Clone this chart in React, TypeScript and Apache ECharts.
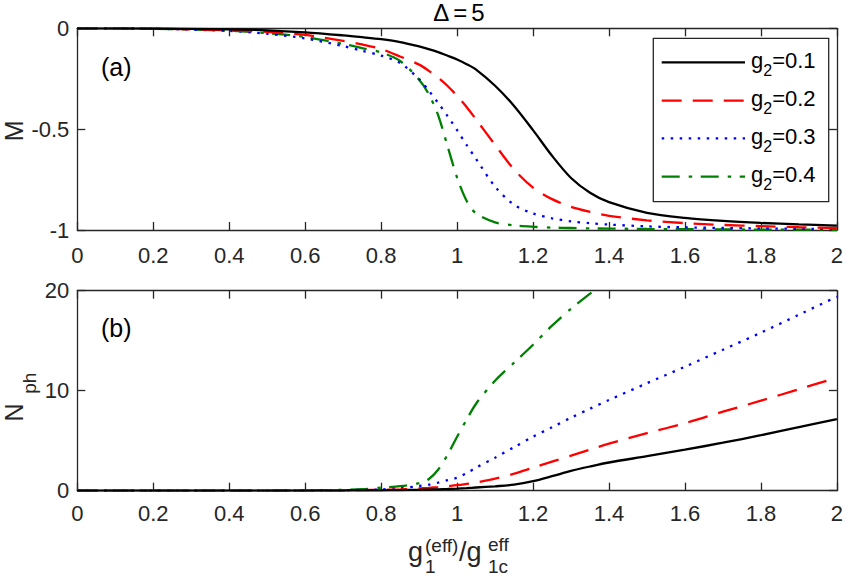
import React, { useEffect, useRef } from "react";
import * as echarts from "echarts";

// Shared x samples (g1_eff / g1c_eff)
const X = [0, 0.2, 0.4, 0.5, 0.6, 0.7, 0.75, 0.8, 0.85, 0.9, 0.925, 0.95, 0.975, 1.0, 1.025, 1.05, 1.1, 1.15, 1.2, 1.25, 1.3, 1.35, 1.4, 1.5, 1.6, 1.7, 1.8, 1.9, 2.0];

// Panel (a): M
const M_G01 = [0, -0.001, -0.005, -0.01, -0.02, -0.035, -0.044, -0.054, -0.068, -0.09, -0.103, -0.118, -0.136, -0.155, -0.178, -0.205, -0.285, -0.385, -0.505, -0.632, -0.742, -0.815, -0.862, -0.915, -0.94, -0.955, -0.965, -0.972, -0.978];
const M_G02 = [0, -0.002, -0.01, -0.018, -0.033, -0.062, -0.08, -0.103, -0.14, -0.18, -0.21, -0.245, -0.286, -0.335, -0.39, -0.452, -0.578, -0.7, -0.79, -0.847, -0.885, -0.91, -0.93, -0.952, -0.966, -0.975, -0.981, -0.986, -0.99];
const M_G03 = [0, -0.002, -0.013, -0.027, -0.05, -0.088, -0.112, -0.135, -0.172, -0.252, -0.308, -0.37, -0.435, -0.505, -0.578, -0.648, -0.785, -0.875, -0.918, -0.942, -0.957, -0.966, -0.973, -0.982, -0.987, -0.99, -0.992, -0.994, -0.995];
const M_G04 = [0, -0.002, -0.012, -0.024, -0.043, -0.078, -0.098, -0.12, -0.162, -0.255, -0.325, -0.43, -0.585, -0.74, -0.855, -0.918, -0.962, -0.977, -0.984, -0.988, -0.99, -0.992, -0.993, -0.995, -0.996, -0.997, -0.998, -0.998, -0.999];

// Panel (b): N_ph
const N_G01 = [0, 0, 0, 0, 0.01, 0.02, 0.03, 0.04, 0.06, 0.09, 0.11, 0.14, 0.17, 0.21, 0.26, 0.32, 0.44, 0.6, 0.95, 1.45, 1.98, 2.42, 2.82, 3.45, 4.1, 4.8, 5.55, 6.35, 7.15];
const N_G02 = [0, 0, 0, 0.01, 0.02, 0.04, 0.06, 0.09, 0.14, 0.22, 0.28, 0.36, 0.45, 0.55, 0.68, 0.82, 1.2, 1.7, 2.3, 2.9, 3.5, 4.1, 4.7, 5.75, 6.75, 7.9, 9.0, 10.15, 11.3];
const N_G03 = [0, 0, 0, 0.01, 0.02, 0.05, 0.08, 0.13, 0.25, 0.47, 0.6, 0.8, 1.05, 1.3, 1.75, 2.3, 3.3, 4.35, 5.4, 6.35, 7.3, 8.2, 9.07, 10.75, 12.4, 14.1, 15.8, 17.6, 19.4];
const N_G04 = [0, 0, 0, 0.01, 0.03, 0.08, 0.15, 0.3, 0.45, 0.75, 1.15, 2.1, 3.6, 5.4, 7.1, 8.7, 11.0, 12.8, 14.6, 16.5, 18.2, 19.7, 21.2, null, null, null, null, null, null];

const G2_VALUES = ["0.1", "0.2", "0.3", "0.4"];
const SERIES_NAMES = G2_VALUES.map((v) => "g2=" + v);
const M_SERIES = [M_G01, M_G02, M_G03, M_G04];
const N_SERIES = [N_G01, N_G02, N_G03, N_G04];

const COLORS = ["#000000", "#ff0000", "#0000ff", "#008000"];
const DASHES: (number[] | "solid")[] = ["solid", [20, 11], [2.5, 6.5], [18, 9, 3.5, 8.5]];

const FONT = "'Liberation Sans', Arial, Helvetica, sans-serif";
const AX = "#262626";

function pairs(ys: (number | null)[]) {
  const out: number[][] = [];
  X.forEach((x, i) => {
    const y = ys[i];
    if (y !== null && y !== undefined) out.push([x, y]);
  });
  return out;
}

export default function App() {
  const ref = useRef<HTMLDivElement>(null);

  useEffect(() => {
    document.body.style.margin = "0";
    if (!ref.current) return;
    const chart = echarts.init(ref.current, null, { renderer: "svg" });

    const axisLine = { show: true, onZero: false, lineStyle: { color: AX, width: 1.3 } };
    const axisTick = { show: true, inside: true, length: 8, lineStyle: { color: AX, width: 1.3 } };
    const labelStyle = { color: AX, fontSize: 22, fontFamily: FONT };

    const xBase = (grid: number, pos: "bottom" | "top", showLabel: boolean, margin: number) => ({
      type: "value",
      gridIndex: grid,
      position: pos,
      min: 0,
      max: 2,
      interval: 0.2,
      axisLine,
      axisTick,
      splitLine: { show: false },
      axisLabel: { show: showLabel, margin, ...labelStyle },
    });
    const yBase = (grid: number, pos: "left" | "right", showLabel: boolean, min: number, max: number, interval: number) => ({
      type: "value",
      gridIndex: grid,
      position: pos,
      min,
      max,
      interval,
      axisLine,
      axisTick,
      splitLine: { show: false },
      axisLabel: { show: showLabel, margin: 8, ...labelStyle },
    });

    const mkSeries = (ys: (number | null)[], i: number, axis: number) => ({
      type: "line",
      name: SERIES_NAMES[i],
      xAxisIndex: axis,
      yAxisIndex: axis,
      data: pairs(ys),
      showSymbol: false,
      symbol: "none",
      smooth: 0.3,
      clip: true,
      lineStyle: { color: COLORS[i], width: 2.3, type: DASHES[i], cap: "butt" },
      z: 5 - i,
    });

    const series: any[] = [
      ...M_SERIES.map((ys, i) => mkSeries(ys, i, 0)),
      ...N_SERIES.map((ys, i) => mkSeries(ys, i, 2)),
    ];

    const txt = (text: string, x: number, y: number, fontSize: number, extra: any = {}) => ({
      type: "text",
      x,
      y,
      z: 100,
      ...(extra.rotation !== undefined ? { rotation: extra.rotation } : {}),
      style: {
        text,
        fontSize,
        fontFamily: FONT,
        fill: extra.fill || AX,
        align: extra.align || "left",
        textAlign: extra.align || "left",
        verticalAlign: "middle",
        textVerticalAlign: "middle",
        ...(extra.rich ? { rich: extra.rich } : {}),
      },
    });

    const rows = [62.3, 100.7, 138.3, 176.7];
    const legendEls: any[] = [
      {
        type: "rect",
        z: 99,
        shape: { x: 653.3, y: 38.3, width: 175.4, height: 163.4 },
        style: { fill: "#ffffff", stroke: AX, lineWidth: 1.3 },
      },
    ];
    G2_VALUES.forEach((v, i) => {
      legendEls.push({
        type: "line",
        z: 100,
        shape: { x1: 661.7, y1: rows[i], x2: 745, y2: rows[i] },
        style: {
          stroke: COLORS[i],
          lineWidth: 2.3,
          lineDash: DASHES[i] === "solid" ? null : DASHES[i],
          lineCap: "butt",
        },
      });
      legendEls.push(
        txt("{m|g}{s|2}{m|=" + v + "}", 751, rows[i] - 2.3, 22, {
          fill: "#000",
          rich: {
            m: { fontSize: 22, fontFamily: FONT, fill: "#000", verticalAlign: "middle" },
            s: { fontSize: 16, fontFamily: FONT, fill: "#000", verticalAlign: "middle", padding: [20, 0, 0, 0] },
          },
        })
      );
    });

    const option: any = {
      animation: false,
      backgroundColor: "#ffffff",
      grid: [
        { left: 77.3, top: 28.3, width: 764.4, height: 201.7, containLabel: false },
        { left: 77.3, top: 290.7, width: 764.4, height: 200, containLabel: false },
      ],
      xAxis: [
        xBase(0, "bottom", true, 14),
        xBase(0, "top", false, 8),
        xBase(1, "bottom", true, 12),
        xBase(1, "top", false, 8),
      ],
      yAxis: [
        yBase(0, "left", true, -1, 0, 0.5),
        yBase(0, "right", false, -1, 0, 0.5),
        yBase(1, "left", true, 0, 20, 10),
        yBase(1, "right", false, 0, 20, 10),
      ],
      series,
      graphic: [
        txt("{a|Δ}{e|=}{a|5}", 459, 12.5, 24, {
          align: "center",
          fill: "#000",
          rich: {
            a: { fontSize: 24, fontFamily: FONT, fill: "#000" },
            e: { fontSize: 24, fontFamily: FONT, fill: "#000", padding: [0, 4, 0, 4] },
          },
        }),
        txt("(a)", 101, 66.7, 25, { fill: "#000" }),
        txt("(b)", 101, 327.5, 25, { fill: "#000" }),
        txt("M", 13.5, 130.8, 25, { align: "center", rotation: Math.PI / 2 }),
        txt("N", 13.5, 412.5, 25, { align: "center", rotation: Math.PI / 2 }),
        txt("ph", 29.5, 383.3, 19, { align: "center", rotation: Math.PI / 2 }),
        txt("g", 408, 552, 27),
        txt("(eff)", 425, 545, 19),
        txt("1", 425, 566.5, 19),
        txt("/g", 459, 552, 27),
        txt("eff", 488, 544.5, 19),
        txt("1c", 488, 566.5, 19),
        ...legendEls,
      ],
    };

    chart.setOption(option);
    return () => {
      chart.dispose();
    };
  }, []);

  return (
    <div
      ref={ref}
      style={{ position: "absolute", left: 0, top: 0, width: 846, height: 577, background: "#fff" }}
    />
  );
}
